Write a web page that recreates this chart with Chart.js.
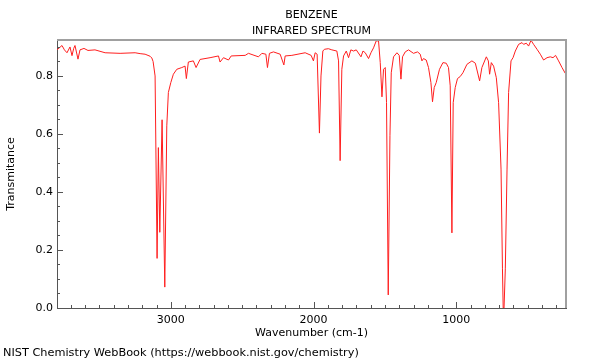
<!DOCTYPE html>
<html lang="en">
<head>
<meta charset="UTF-8">
<title>Benzene IR Spectrum</title>
<script src="https://cdn.jsdelivr.net/npm/chart.js"></script>
<style>
  body { margin: 0; background: #fff; }
  #wrap { position: relative; width: 600px; height: 360px; font-family: "DejaVu Sans", sans-serif; }
  .txt { position: absolute; font-size: 11px; color: #000; white-space: nowrap; line-height: 13px; }
  .ctr { left: 0; width: 623px; text-align: center; }
</style>
</head>
<body>
<div id="wrap">
  <canvas id="irChart" width="600" height="360"></canvas>
  <div class="txt ctr" style="top:8px;">BENZENE</div>
  <div class="txt ctr" style="top:24px;">INFRARED SPECTRUM</div>
  <div class="txt" style="left:3px; top:346px; font-size:11.3px;">NIST Chemistry WebBook (https://webbook.nist.gov/chemistry)</div>
</div>
<script>
// (cm-1, transmittance)
var wavenumbers = [
  3797, 3762, 3745, 3727, 3706, 3692, 3680, 3671, 3650, 3636, 3608, 3580, 3531, 3460, 3355, 3250,
  3215, 3180, 3145, 3133, 3124, 3110, 3096, 3087, 3077, 3061, 3042, 3028, 3017, 3000, 2982, 2958,
  2923, 2900, 2891, 2877, 2842, 2823, 2795, 2725, 2666, 2655, 2631, 2596, 2577, 2479, 2456, 2386,
  2362, 2334, 2323, 2309, 2281, 2234, 2208, 2199, 2152, 2059, 2017, 2001, 1989, 1975, 1959, 1948,
  1935, 1924, 1896, 1872, 1837, 1825, 1814, 1802, 1790, 1771, 1755, 1739, 1720, 1701, 1668, 1654,
  1638, 1615, 1598, 1580, 1561, 1545, 1533, 1521, 1510, 1498, 1489, 1477, 1465, 1456, 1440, 1416,
  1400, 1388, 1377, 1358, 1335, 1300, 1272, 1253, 1241, 1230, 1211, 1195, 1178, 1167, 1155, 1141,
  1118, 1094, 1071, 1055, 1043, 1031, 1022, 1008, 992, 973, 954, 926, 891, 867, 837, 821,
  790, 776, 767, 755, 739, 720, 704, 687, 677, 672, 666, 657, 645, 634, 617, 603,
  587, 564, 540, 529, 510, 494, 477, 459, 435, 412, 389, 365, 342, 323, 305, 284,
  260, 237
];
var transmittance = [
  0.890, 0.905, 0.890, 0.880, 0.900, 0.870, 0.895, 0.905, 0.858, 0.890, 0.895, 0.888, 0.890, 0.880, 0.878, 0.880,
  0.877, 0.875, 0.868, 0.862, 0.850, 0.800, 0.171, 0.553, 0.261, 0.649, 0.072, 0.628, 0.743, 0.777, 0.806, 0.823,
  0.829, 0.834, 0.791, 0.848, 0.852, 0.829, 0.857, 0.863, 0.869, 0.848, 0.863, 0.855, 0.869, 0.871, 0.878, 0.866,
  0.878, 0.875, 0.829, 0.878, 0.883, 0.875, 0.838, 0.869, 0.871, 0.880, 0.871, 0.852, 0.880, 0.875, 0.603, 0.800,
  0.886, 0.892, 0.894, 0.890, 0.886, 0.852, 0.508, 0.823, 0.869, 0.886, 0.863, 0.890, 0.886, 0.890, 0.866, 0.886,
  0.880, 0.860, 0.880, 0.897, 0.921, 0.921, 0.846, 0.728, 0.823, 0.829, 0.708, 0.045, 0.594, 0.811, 0.866, 0.880,
  0.871, 0.789, 0.866, 0.883, 0.890, 0.878, 0.883, 0.875, 0.852, 0.860, 0.855, 0.829, 0.777, 0.711, 0.760, 0.777,
  0.823, 0.846, 0.844, 0.829, 0.766, 0.259, 0.708, 0.760, 0.791, 0.798, 0.811, 0.840, 0.852, 0.844, 0.783, 0.829,
  0.866, 0.852, 0.806, 0.846, 0.834, 0.794, 0.708, 0.479, 0.135, 0.000, 0.000, 0.135, 0.479, 0.743, 0.852, 0.863,
  0.886, 0.909, 0.915, 0.909, 0.913, 0.903, 0.923, 0.909, 0.892, 0.875, 0.855, 0.863, 0.866, 0.863, 0.871, 0.852,
  0.829, 0.809
];
var xMajorTicks = [1000, 2000, 3000];
var yMajorTicks = [0.0, 0.2, 0.4, 0.6, 0.8];
var xMinorStep = 100;
var yMinorStep = 0.05;
var xRange = [232, 3797];
var yRange = [0, 0.924];

var points = wavenumbers.map(function (w, i) { return { x: w, y: transmittance[i] }; });

// inward ticks + grey top/right frame, like the NIST plots
var frameTicks = {
  id: 'frameTicks',
  afterDraw: function (chart) {
    var ctx = chart.ctx, a = chart.chartArea, xs = chart.scales.x, ys = chart.scales.y;
    ctx.save();
    ctx.strokeStyle = '#a0a0a0';
    ctx.lineWidth = 2;
    ctx.beginPath();
    ctx.moveTo(a.left, a.top);
    ctx.lineTo(a.right, a.top);
    ctx.lineTo(a.right, a.bottom);
    ctx.stroke();

    ctx.strokeStyle = '#555';
    ctx.lineWidth = 1;
    ctx.beginPath();
    var v, px, len;
    for (v = Math.ceil(xRange[0] / xMinorStep) * xMinorStep; v <= xRange[1]; v += xMinorStep) {
      px = Math.round(xs.getPixelForValue(v)) + 0.5;
      len = xMajorTicks.indexOf(v) >= 0 ? 6 : 3;
      ctx.moveTo(px, a.bottom);
      ctx.lineTo(px, a.bottom - len);
    }
    for (var i = 0; i * yMinorStep <= yRange[1]; i++) {
      v = i * yMinorStep;
      px = Math.round(ys.getPixelForValue(v)) + 0.5;
      len = (i % 4 === 0) ? 6 : 3;
      ctx.moveTo(a.left, px);
      ctx.lineTo(a.left + len, px);
    }
    ctx.stroke();
    ctx.restore();
  }
};

var ctx = document.getElementById('irChart').getContext('2d');
var irChart = new Chart(ctx, {
  type: 'line',
  data: {
    datasets: [{
      data: points,
      borderColor: 'rgb(255, 30, 30)',
      borderWidth: 1,
      pointRadius: 0,
      tension: 0,
      fill: false
    }]
  },
  options: {
    responsive: false,
    animation: false,
    devicePixelRatio: 1,
    layout: { padding: { top: 40, right: 34, bottom: 0, left: 0 } },
    plugins: { legend: { display: false }, tooltip: { enabled: false } },
    scales: {
      x: {
        type: 'linear',
        reverse: true,
        min: xRange[0],
        max: xRange[1],
        grid: { display: false, drawTicks: false },
        border: { display: true, color: '#555', width: 1 },
        afterBuildTicks: function (scale) {
          scale.ticks = xMajorTicks.map(function (v) { return { value: v }; });
        },
        ticks: {
          color: '#000',
          padding: 6,
          maxRotation: 0,
          font: { family: 'DejaVu Sans', size: 11 },
          callback: function (v) { return String(v); }
        },
        title: {
          display: true,
          text: 'Wavenumber (cm-1)',
          color: '#000',
          font: { family: 'DejaVu Sans', size: 11 },
          padding: { top: 0, bottom: 20 }
        },
        afterFit: function (scale) { scale.height = 52; }
      },
      y: {
        min: yRange[0],
        max: yRange[1],
        grid: { display: false, drawTicks: false },
        border: { display: true, color: '#555', width: 1 },
        afterBuildTicks: function (scale) {
          scale.ticks = yMajorTicks.map(function (v) { return { value: v }; });
        },
        ticks: {
          color: '#000',
          padding: 4,
          font: { family: 'DejaVu Sans', size: 11 },
          callback: function (v) { return v.toFixed(1); }
        },
        title: {
          display: true,
          text: 'Transmitance',
          color: '#000',
          font: { family: 'DejaVu Sans', size: 11 },
          padding: { top: 5, bottom: 0 }
        },
        afterFit: function (scale) { scale.width = 57; }
      }
    }
  },
  plugins: [frameTicks]
});
</script>
</body>
</html>
